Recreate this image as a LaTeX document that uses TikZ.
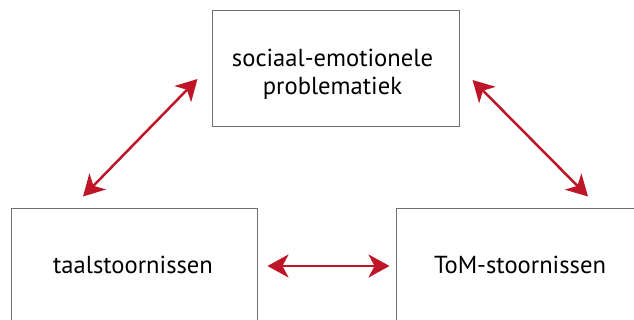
\documentclass[tikz,border=0pt]{standalone}
\usepackage{fontspec}
\setmainfont{PT Sans}
\usetikzlibrary{arrows.meta}
\definecolor{arrred}{HTML}{BE1628}
\definecolor{boxgray}{HTML}{707070}
\begin{document}
\begin{tikzpicture}[x=1pt,y=-1pt,
  box/.style={draw=boxgray,line width=1pt,inner sep=0pt},
  lbl/.style={font=\fontsize{24.6}{28}\selectfont,align=center,inner sep=0pt},
  link/.style={draw=arrred,line width=2.5pt,
    {Stealth[length=21pt,width=23pt,inset=6pt]}-{Stealth[length=21pt,width=23pt,inset=6pt]}}]
\useasboundingbox (0,0) rectangle (634,320);
\clip (0,0) rectangle (634,320);
\node[box,minimum width=247pt,minimum height=116pt] (top) at (335.5,69) {};
\node[box,minimum width=246pt,minimum height=151pt] (left) at (134,284.5) {};
\node[box,minimum width=284pt,minimum height=151pt] (right) at (538,284.5) {};
\node[lbl] (ttop) at (332.5,74) {sociaal-emotionele\\problematiek};
\node[lbl] (tleft) at (133,265) {taalstoornissen};
\node[lbl] (tright) at (520,265) {ToM-stoornissen};
\coordinate (a1) at ([shift={(-14,10)}]top.west);
\coordinate (a2) at ([shift={(-51,-12)}]left.north);
\coordinate (b1) at ([shift={(13,11)}]top.east);
\coordinate (b2) at ([shift={(50,-12)}]right.north);
\coordinate (c1) at ([shift={(10,-18.5)}]left.east);
\coordinate (c2) at ([shift={(-6,-18.5)}]right.west);
\draw[link] (a1) -- (a2);
\draw[link] (b1) -- (b2);
\draw[link] (c1) -- (c2);
\end{tikzpicture}
\end{document}
